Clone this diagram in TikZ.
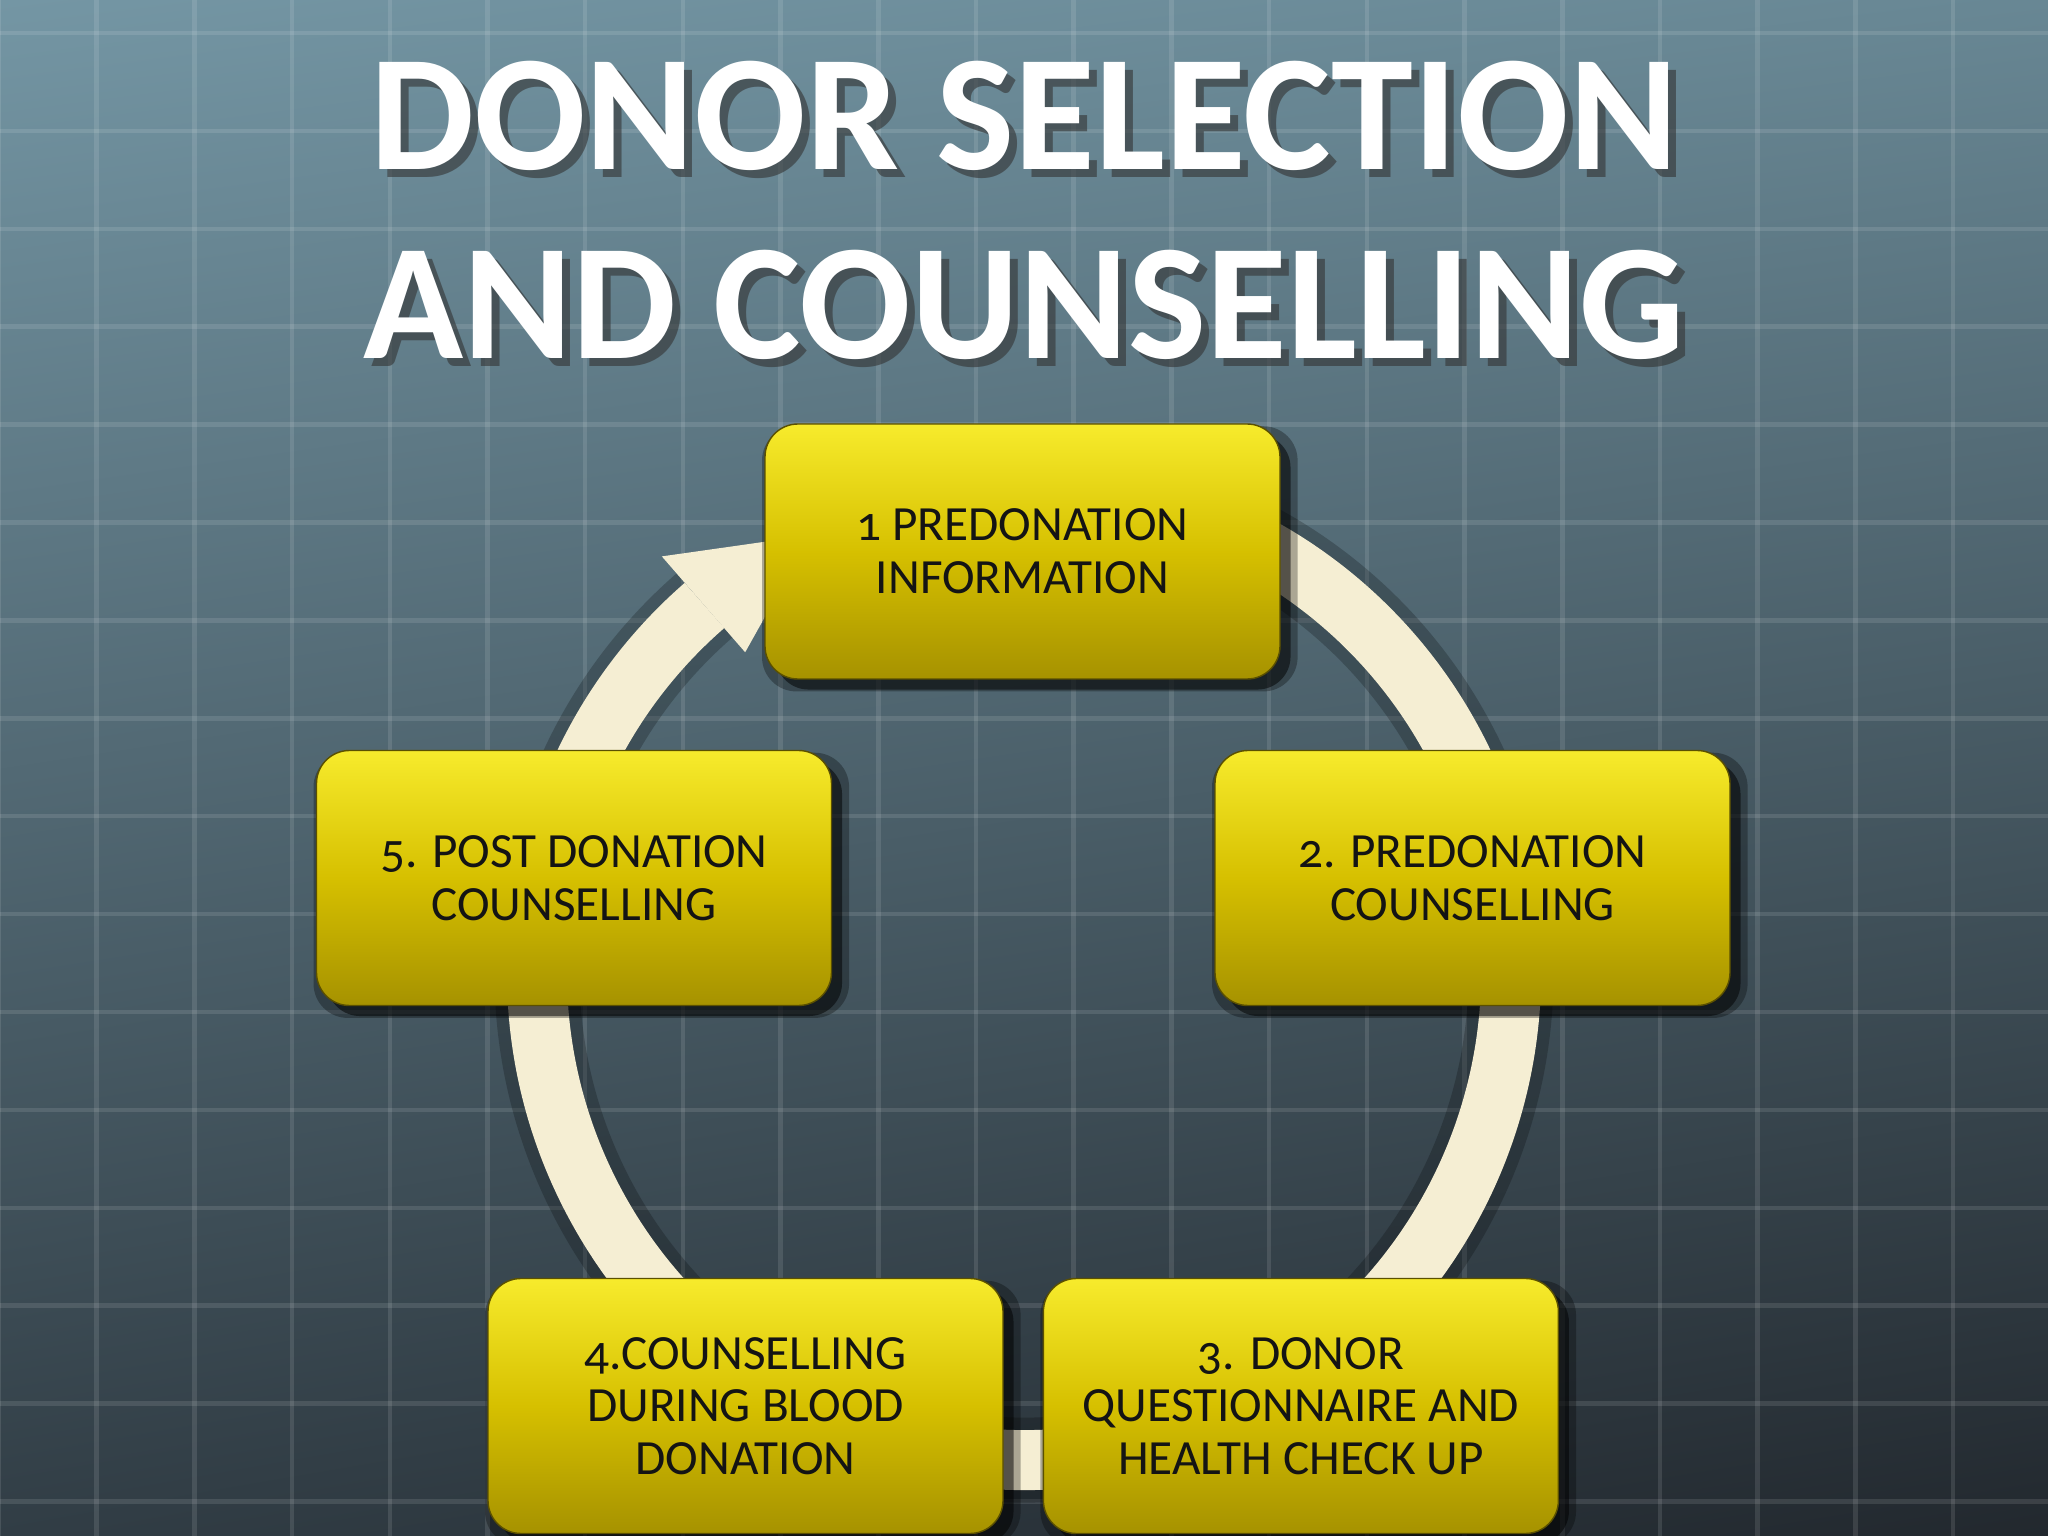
\documentclass[tikz,border=0pt]{standalone}
\usepackage{fontspec}
\setmainfont{Carlito}[Numbers=OldStyle]
\usepackage{tikz}
\usetikzlibrary{arrows.meta,positioning,calc,shadows,shadings}
\definecolor{bgtl}{HTML}{7496A4}
\definecolor{bgtr}{HTML}{688794}
\definecolor{bgbl}{HTML}{313D45}
\definecolor{bgbr}{HTML}{22282E}
\definecolor{boxtop}{HTML}{F7EB2C}
\definecolor{boxmid}{HTML}{D6C000}
\definecolor{boxbot}{HTML}{A69200}
\definecolor{ringcol}{HTML}{F5EED3}
\newcommand{\ringR}{4.87}

\begin{document}
\begin{tikzpicture}[
  >=Stealth,
  stage/.style={rounded corners=0.33cm, minimum width=5.15cm, minimum height=2.55cm,
                align=center, text=black!92, font=\fontsize{14}{15}\selectfont,
                top color=boxtop, bottom color=boxbot, middle color=boxmid,
                draw=boxbot!55!black, line width=0.4pt,
                drop shadow={shadow xshift=2pt, shadow yshift=-2pt, shadow scale=1.04, opacity=0.3, fill=black},
                drop shadow={shadow xshift=3pt, shadow yshift=-3pt, opacity=0.5, fill=black}},
  ring/.style={line width=0.6cm, draw=ringcol},
  ringshadow/.style={line width=0.85cm, draw=black, opacity=0.22},
  headline/.style={font=\fontsize{47}{54}\selectfont\bfseries, text=white},
  headshadow/.style={font=\fontsize{47}{54}\selectfont\bfseries, text=black!80, opacity=0.6},
  gridline/.style={white, opacity=0.11, line width=1.3pt},
]
\useasboundingbox (0,0) rectangle (20.48,-15.36);
\clip (0,0) rectangle (20.48,-15.36);

% background and grid
\shade[upper left=bgtl, upper right=bgtr, lower left=bgbl, lower right=bgbr]
  (0,0) rectangle (20.48,-15.36);
\foreach \gx in {0,...,21}
  \draw[gridline] ({-0.01+0.977*\gx},0) -- ++(0,-15.36);
\foreach \gy in {0,...,15}
  \draw[gridline] (0,{-0.33-0.979*\gy}) -- ++(20.48,0);

% Title
\node[headshadow, anchor=base] (title1shadow) at (10.32,-1.78) {DONOR SELECTION};
\node[headline, anchor=base] (title1) at (10.24,-1.70) {DONOR SELECTION};
\node[headshadow, anchor=base] (title2shadow) at (10.32,-3.67) {AND COUNSELLING};
\node[headline, anchor=base] (title2) at (10.24,-3.59) {AND COUNSELLING};

% Cycle ring
\coordinate (hub) at (10.24,-9.73);
\draw[ringshadow] ($(hub)+(115:\ringR)$) arc[start angle=115, end angle=-229, radius=\ringR];
\draw[ring] ($(hub)+(115:\ringR)$) arc[start angle=115, end angle=-229, radius=\ringR];
\fill[ringcol] ($(hub)+(131:5.52)$) -- ($(hub)+(116:\ringR)$) -- ($(hub)+(131:4.25)$) -- cycle;

% Stages
\node[stage] (info) at (10.225,-5.515) {1 PREDONATION\\INFORMATION};
\node[stage] (precoun) at (14.725,-8.78) {2. PREDONATION\\COUNSELLING};
\node[stage] (during) at (7.455,-14.06) {4.COUNSELLING\\DURING BLOOD\\DONATION};
\node[stage, right=0.39cm of during] (quest) {3. DONOR\\QUESTIONNAIRE AND\\HEALTH CHECK UP};
\node[stage] (post) at (5.74,-8.78) {5. POST DONATION\\COUNSELLING};
\end{tikzpicture}
\end{document}
